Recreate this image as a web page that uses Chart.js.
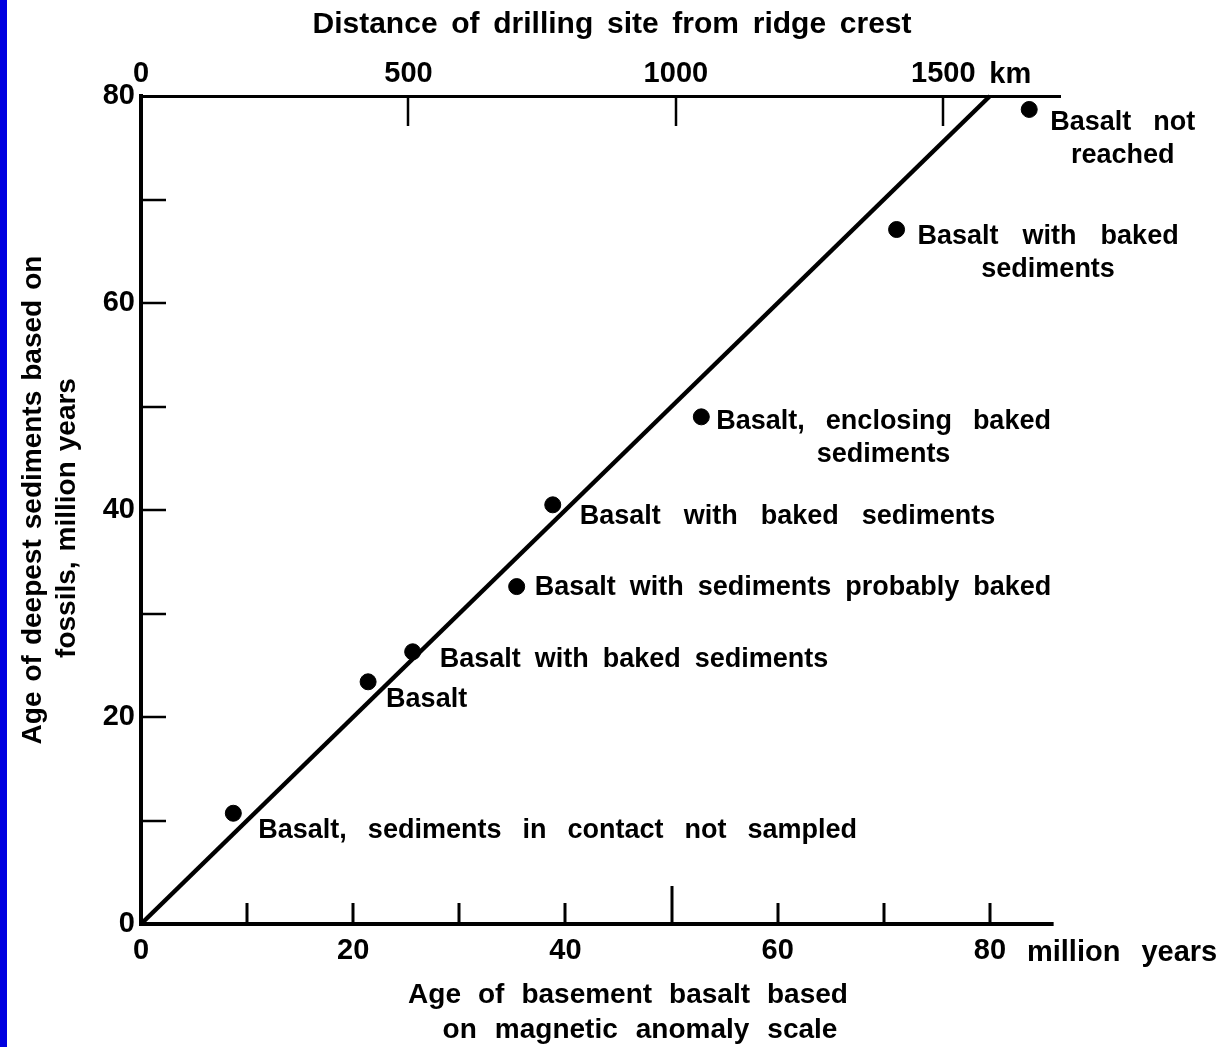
<!DOCTYPE html>
<html>
<head>
<meta charset="utf-8">
<script src="https://cdn.jsdelivr.net/npm/chart.js@4.4.1/dist/chart.umd.min.js"></script>
<style>
  html, body { margin: 0; padding: 0; background: #fff; }
  #wrap { position: relative; width: 1224px; height: 1047px; background: #fff; }
  #c { position: absolute; left: 0; top: 0; }
  #strip { position: absolute; left: 0; top: 0; width: 7px; height: 1047px; background: #0000e0; }
</style>
</head>
<body>
<div id="wrap"><canvas id="c" width="1224" height="1047"></canvas><div id="strip"></div></div>
<script>
// ---- data ----
const basaltAge   = [8.7, 21.4, 25.6, 35.4, 38.8, 52.8, 71.2, 83.7];   // x: age of basement basalt, Myr
const sedimentAge = [10.7, 23.4, 26.3, 32.6, 40.5, 49.0, 67.1, 78.7];  // y: age of deepest sediments, Myr
const siteLabels = [
  ["Basalt, sediments in contact not sampled"],
  ["Basalt"],
  ["Basalt with baked sediments"],
  ["Basalt with sediments probably baked"],
  ["Basalt with baked sediments"],
  ["Basalt, enclosing baked", "sediments"],
  ["Basalt with baked", "sediments"],
  ["Basalt not", "reached"]
];
const lineX = [0, 80];
const lineY = [0, 80];
const ageLabelTicks = [0, 20, 40, 60, 80];
const ageMinorTicks = [10, 20, 30, 40, 50, 60, 70, 80];
const sedLabelTicks = [0, 20, 40, 60, 80];
const sedMinorTicks = [10, 20, 30, 40, 50, 60, 70];
const distTicks = [0, 500, 1000, 1500];
const distMinorTicks = [500, 1000, 1500];
const KM_PER_MYR = 19.84;   // top scale: 1500 km sits at ~75.6 Myr
const AGE_MAX = 86.6;       // extent of the top axis line
const AGE_AXIS_END = 86.0;  // extent of the bottom axis line
const SED_MAX = 80;

const topTitle = "Distance of drilling site from ridge crest";
const bottomTitle = ["Age of basement basalt based", "on magnetic anomaly scale"];
const leftTitle = ["Age of deepest sediments based on", "fossils, million years"];
const distUnit = "km";
const ageUnit = "million years";

// ---- styles ----
const FAM = "'Liberation Sans', Arial, Helvetica, sans-serif";
const tickFont = { family: FAM, size: 29, weight: 'bold' };
const labelOffsets = [[25,17],[18,18],[27,8],[18,1],[27,12],[15,5],[21,7],[21,13]];
const labelGaps = [21, 20, 14, 14, 23, 21, 24, 22];

function drawWords(ctx, text, x, y, align, gap) {
  const words = text.split(' ');
  const widths = words.map(w => ctx.measureText(w).width);
  const total = widths.reduce((a, b) => a + b, 0) + gap * (words.length - 1);
  let sx = align === 'center' ? x - total / 2 : (align === 'right' ? x - total : x);
  ctx.textAlign = 'left';
  words.forEach((w, i) => { ctx.fillText(w, sx, y); sx += widths[i] + gap; });
  return total;
}

const decor = {
  id: 'decor',
  afterDraw(chart) {
    const ctx = chart.ctx, ca = chart.chartArea;
    const xs = chart.scales.x, ys = chart.scales.y, x2 = chart.scales.x2;
    ctx.save();
    ctx.strokeStyle = '#000';
    ctx.fillStyle = '#000';
    ctx.lineCap = 'butt';
    // bottom axis line (shorter than the top one)
    ctx.lineWidth = 4;
    ctx.beginPath();
    ctx.moveTo(xs.getPixelForValue(0) - 2, ca.bottom);
    ctx.lineTo(xs.getPixelForValue(AGE_AXIS_END), ca.bottom);
    ctx.stroke();
    // inward ticks bottom
    ageMinorTicks.forEach(v => {
      const px = Math.round(xs.getPixelForValue(v));
      const len = v === 50 ? 38 : 21;
      ctx.lineWidth = 3;
      ctx.beginPath(); ctx.moveTo(px, ca.bottom); ctx.lineTo(px, ca.bottom - len); ctx.stroke();
    });
    // inward ticks left
    sedMinorTicks.forEach(v => {
      const py = Math.round(ys.getPixelForValue(v));
      ctx.lineWidth = 2.5;
      ctx.beginPath(); ctx.moveTo(ca.left, py); ctx.lineTo(ca.left + 25, py); ctx.stroke();
    });
    // inward ticks top
    distMinorTicks.forEach(v => {
      const px = Math.round(x2.getPixelForValue(v));
      ctx.lineWidth = 2.5;
      ctx.beginPath(); ctx.moveTo(px, ca.top); ctx.lineTo(px, ca.top + 30); ctx.stroke();
    });

    ctx.textBaseline = 'middle';
    // unit texts
    ctx.font = `bold 29px ${FAM}`;
    drawWords(ctx, distUnit, x2.getPixelForValue(1500) + 46, 75, 'left', 0);
    drawWords(ctx, ageUnit, xs.getPixelForValue(80) + 37, 953, 'left', 21);

    // titles
    ctx.font = `bold 30px ${FAM}`;
    drawWords(ctx, topTitle, 612, 25, 'center', 13.7);
    ctx.font = `bold 28px ${FAM}`;
    drawWords(ctx, bottomTitle[0], 628, 995, 'center', 17);
    drawWords(ctx, bottomTitle[1], 640, 1030, 'center', 18);
    ctx.save();
    ctx.translate(33, 500); ctx.rotate(-Math.PI / 2);
    drawWords(ctx, leftTitle[0], 0, 0, 'center', 10);
    ctx.restore();
    ctx.save();
    ctx.translate(67, 518); ctx.rotate(-Math.PI / 2);
    drawWords(ctx, leftTitle[1], 0, 0, 'center', 10);
    ctx.restore();

    // annotation labels
    ctx.font = `bold 27px ${FAM}`;
    siteLabels.forEach((lines, i) => {
      const px = xs.getPixelForValue(basaltAge[i]);
      const py = ys.getPixelForValue(sedimentAge[i]);
      const [dx, dy] = labelOffsets[i];
      const w = drawWords(ctx, lines[0], px + dx, py + dy, 'left', labelGaps[i]);
      const cx = px + dx + w / 2;
      for (let k = 1; k < lines.length; k++) {
        drawWords(ctx, lines[k], cx, py + dy + 33 * k, 'center', labelGaps[i]);
      }
    });
    ctx.restore();
  }
};

new Chart(document.getElementById('c'), {
  type: 'scatter',
  data: {
    datasets: [
      {
        type: 'line',
        data: lineX.map((x, i) => ({ x: x, y: lineY[i] })),
        borderColor: '#000', borderWidth: 4.5, pointRadius: 0, fill: false,
        xAxisID: 'x', yAxisID: 'y', clip: 4
      },
      {
        type: 'scatter',
        data: basaltAge.map((x, i) => ({ x: x, y: sedimentAge[i] })),
        backgroundColor: '#000', borderColor: '#000', pointRadius: 8, pointHoverRadius: 8,
        xAxisID: 'x', yAxisID: 'y', clip: 10
      }
    ]
  },
  options: {
    responsive: false, animation: false, devicePixelRatio: 1,
    layout: { padding: { left: 0, right: 164, top: 0, bottom: 0 } },
    plugins: { legend: { display: false }, tooltip: { enabled: false }, title: { display: false } },
    scales: {
      x: {
        type: 'linear', position: 'bottom', min: 0, max: AGE_MAX,
        afterBuildTicks: s => { s.ticks = ageLabelTicks.map(v => ({ value: v })); },
        afterFit: s => { s.height = 123; },
        ticks: { font: tickFont, color: '#000', padding: 10, maxRotation: 0, autoSkip: false, callback: v => String(v) },
        grid: { display: false, drawTicks: false },
        border: { display: false }
      },
      x2: {
        type: 'linear', position: 'top', axis: 'x', min: 0, max: AGE_MAX * KM_PER_MYR,
        afterBuildTicks: s => { s.ticks = distTicks.map(v => ({ value: v })); },
        afterFit: s => { s.height = 96; },
        ticks: { font: tickFont, color: '#000', padding: 5, maxRotation: 0, autoSkip: false, callback: v => String(v) },
        grid: { display: false, drawTicks: false },
        border: { display: true, color: '#000', width: 3 }
      },
      y: {
        type: 'linear', position: 'left', min: 0, max: SED_MAX,
        afterBuildTicks: s => { s.ticks = sedLabelTicks.map(v => ({ value: v })); },
        afterFit: s => { s.width = 141; },
        ticks: { font: tickFont, color: '#000', padding: 6, autoSkip: false, callback: v => String(v) },
        grid: { display: false, drawTicks: false },
        border: { display: true, color: '#000', width: 4 }
      }
    }
  },
  plugins: [decor]
});
</script>
</body>
</html>
